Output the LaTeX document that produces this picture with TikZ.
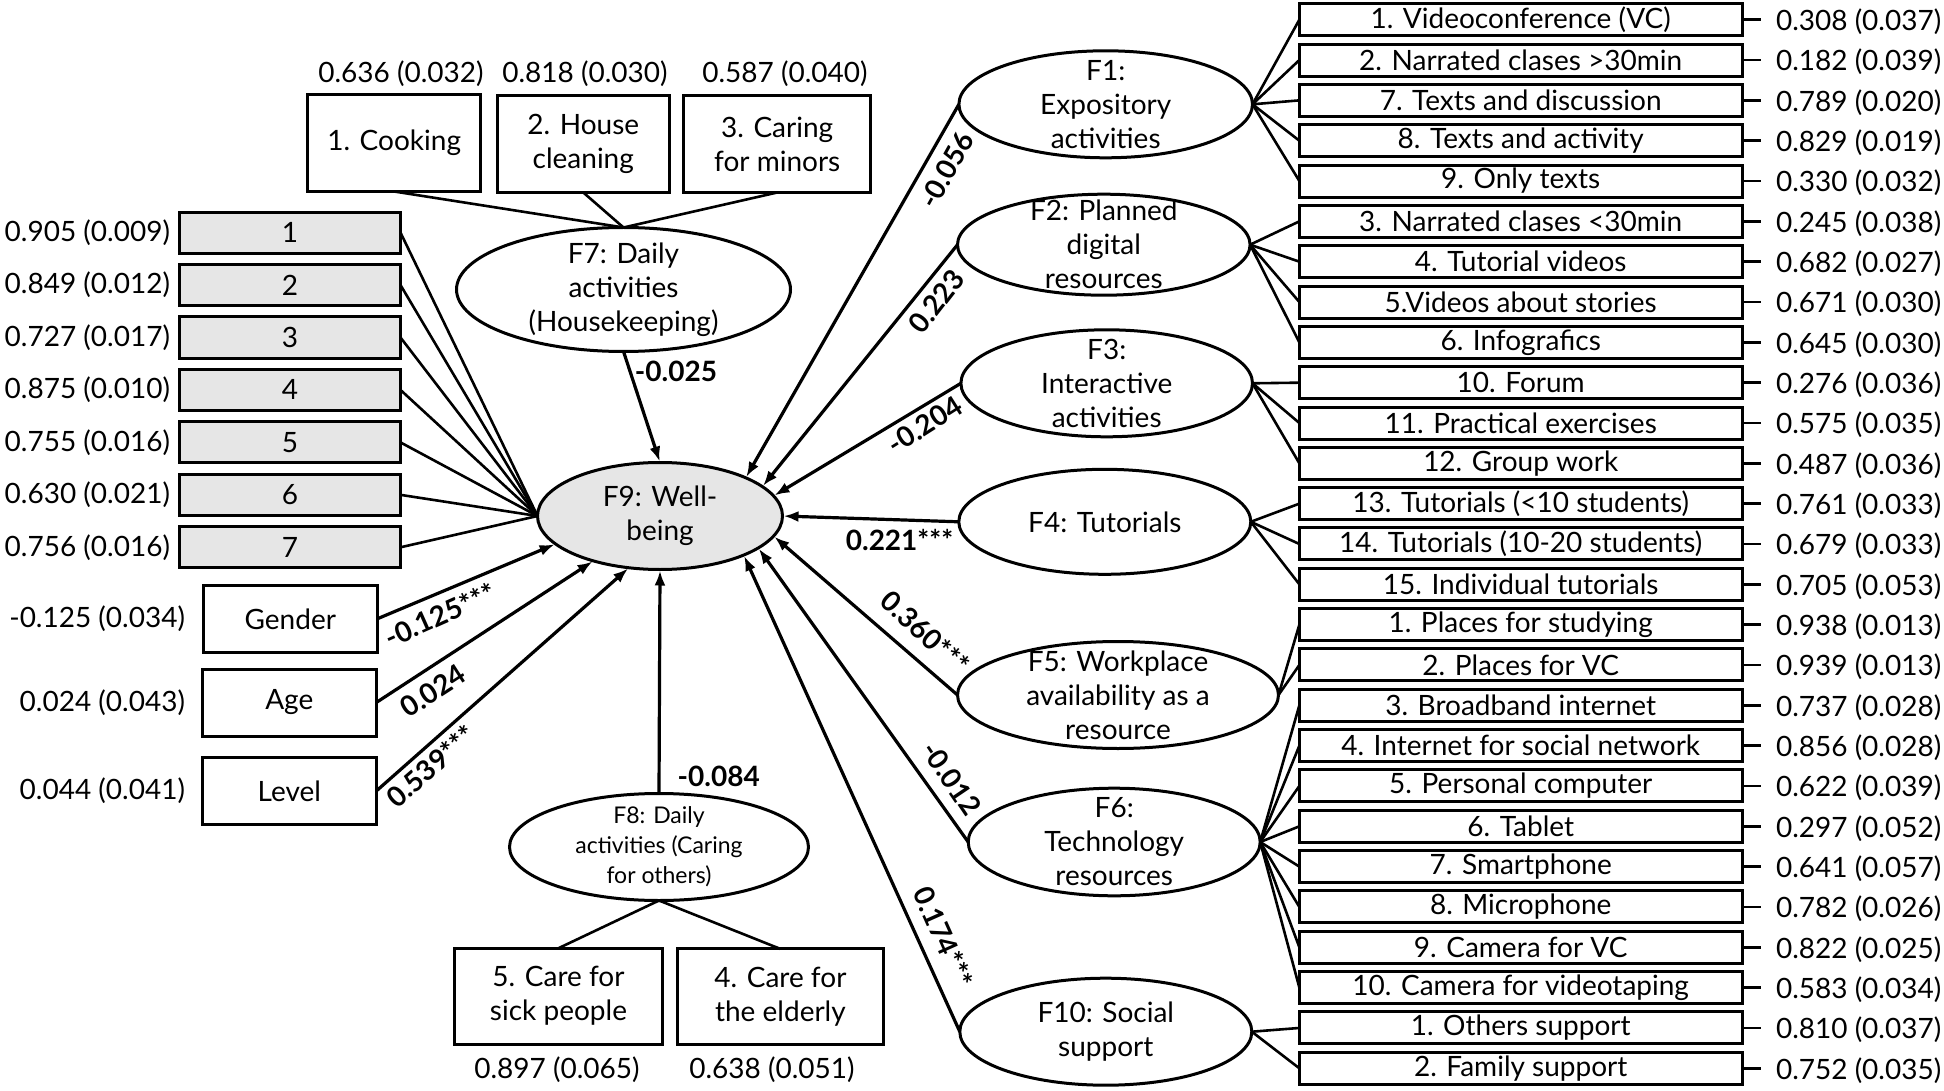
\documentclass[tikz,border=0pt]{standalone}
\usepackage{fontspec}
\setmainfont{Lato}
\usetikzlibrary{arrows.meta,shapes.geometric}
\definecolor{boxgray}{RGB}{230,230,230}
\begin{document}
\begin{tikzpicture}[x=1pt,y=-1pt,
  every node/.style={inner sep=0pt, outer sep=0pt, font=\fontsize{28}{34}\selectfont},
  rbox/.style={draw, line width=3pt, minimum width=442.7pt, minimum height=32pt},
  gbox/.style={draw, fill=boxgray, line width=3pt, minimum width=221pt, minimum height=41pt},
  dbox/.style={draw, line width=3pt, minimum width=174pt, minimum height=67pt},
  tbox/.style={draw, line width=3pt, minimum height=97pt, align=center},
  lat/.style={draw, line width=3pt, shape=ellipse, align=center, inner xsep=0pt, inner ysep=-30pt},
  conn/.style={line width=2.6pt},
  arr/.style={line width=3.2pt, -{Latex[length=15pt,width=11pt]}, shorten >=1pt},
  coef/.style={font=\fontsize{28}{34}\selectfont\bfseries}
]
\useasboundingbox (0,0) rectangle (1944,1091);

% ---------- latent variables ----------
\node[lat, minimum width=334pt, minimum height=124pt] (F7) at (623.5,289.5) {F7: Daily\\activities\\(Housekeeping)};
\node[lat, fill=boxgray, minimum width=245pt, minimum height=107pt] (F9) at (660,516) {F9: Well-\\being};
\node[lat, minimum width=299pt, minimum height=107pt, font=\fontsize{23}{30}\selectfont] (F8) at (659,847) {F8: Daily\\activities (Caring\\for others)};
\node[lat, minimum width=293.6pt, minimum height=107pt] (F1) at (1105.7,104.3) {F1:\\Expository\\activities};
\node[lat, minimum width=292.6pt, minimum height=101pt] (F2) at (1103.8,244.7) {F2: Planned\\digital\\resources};
\node[lat, minimum width=291.6pt, minimum height=107pt] (F3) at (1106.7,383.3) {F3:\\Interactive\\activities};
\node[lat, minimum width=292pt, minimum height=105pt] (F4) at (1104.8,521.8) {F4: Tutorials};
\node[lat, minimum width=321pt, minimum height=107pt] (F5) at (1118,695) {F5: Workplace\\availability as a\\resource};
\node[lat, minimum width=292pt, minimum height=107.6pt] (F6) at (1114.2,842) {F6:\\Technology\\resources};
\node[lat, minimum width=292pt, minimum height=107pt] (F10) at (1105.8,1031.7) {F10: Social\\support};

% ---------- top indicators (F7) ----------
\node[tbox, minimum width=173.5pt] (cook) at (394.2,143) {1. Cooking};
\node[tbox, minimum width=172.4pt] (house) at (583.3,144) {2. House\\cleaning};
\node[tbox, minimum width=187.5pt] (minors) at (777.2,144) {3. Caring\\for minors};
\node (cookv) at (401,74) {0.636 (0.032)};
\node (housev) at (585,74) {0.818 (0.030)};
\node (minorsv) at (785,74) {0.587 (0.040)};

% ---------- bottom indicators (F8) ----------
\node[tbox, minimum width=208.6pt, minimum height=96pt] (sick) at (558.5,996.2) {5. Care for\\sick people};
\node[tbox, minimum width=206.3pt, minimum height=96pt] (elder) at (780.4,996.9) {4. Care for\\the elderly};
\node (sickv) at (557,1070) {0.897 (0.065)};
\node (elderv) at (772,1070) {0.638 (0.051)};

% ---------- gray indicators (F9) ----------
\foreach \i/\v in {1/{0.905 (0.009)},2/{0.849 (0.012)},3/{0.727 (0.017)},4/{0.875 (0.010)},5/{0.755 (0.016)},6/{0.630 (0.021)},7/{0.756 (0.016)}}{
  \node[gbox] (g\i) at (290,{232.6+52.45*(\i-1)}) {\i};
  \node[anchor=east] (gv\i) at (170,{232.6+52.45*(\i-1)}) {\v};
}

% ---------- covariates ----------
\node[dbox] (gen) at (290.3,618.8) {Gender};
\node[dbox] (age) at (289.3,702.5) {Age};
\node[dbox] (lev) at (289.3,791) {Level};
\node[anchor=east] (genv) at (185,618.8) {-0.125 (0.034)};
\node[anchor=east] (agev) at (185,702.5) {0.024 (0.043)};
\node[anchor=east] (levv) at (185,791) {0.044 (0.041)};

% ---------- right indicators ----------
\foreach \t/\v [count=\i from 0] in {
  {1. Videoconference (VC)}/{0.308 (0.037)},
  {2. Narrated clases >30min}/{0.182 (0.039)},
  {7. Texts and discussion}/{0.789 (0.020)},
  {8. Texts and activity}/{0.829 (0.019)},
  {9. Only texts}/{0.330 (0.032)},
  {3. Narrated clases <30min}/{0.245 (0.038)},
  {4. Tutorial videos}/{0.682 (0.027)},
  {5.Videos about stories}/{0.671 (0.030)},
  {6. Infografics}/{0.645 (0.030)},
  {10. Forum}/{0.276 (0.036)},
  {11. Practical exercises}/{0.575 (0.035)},
  {12. Group work}/{0.487 (0.036)},
  {13. Tutorials (<10 students)}/{0.761 (0.033)},
  {14. Tutorials (10-20 students)}/{0.679 (0.033)},
  {15. Individual tutorials}/{0.705 (0.053)},
  {1. Places for studying}/{0.938 (0.013)},
  {2. Places for VC}/{0.939 (0.013)},
  {3. Broadband internet}/{0.737 (0.028)},
  {4. Internet for social network}/{0.856 (0.028)},
  {5. Personal computer}/{0.622 (0.039)},
  {6. Tablet}/{0.297 (0.052)},
  {7. Smartphone}/{0.641 (0.057)},
  {8. Microphone}/{0.782 (0.026)},
  {9. Camera for VC}/{0.822 (0.025)},
  {10. Camera for videotaping}/{0.583 (0.034)},
  {1. Others support}/{0.810 (0.037)},
  {2. Family support}/{0.752 (0.035)}}{
  \node[rbox] (r\i) at (1520.7,{19.7+40.33*\i}) {\t};
  \node[anchor=west] (v\i) at (1776,{21.7+40.33*\i}) {\v};
  \draw[conn] (r\i.east) -- ++(19,0);
}

% ---------- measurement connectors ----------
\foreach \n in {cook,house,minors} \draw[conn] (\n.south) -- (F7.north);
\foreach \i in {1,...,7} \draw[conn] (g\i.east) -- (F9.west);
\draw[conn] (F8.south) -- (sick.north);
\draw[conn] (F8.south) -- (elder.north);
\foreach \j in {0,...,4} \draw[conn] (F1.east) -- (r\j.west);
\foreach \j in {5,...,8} \draw[conn] (F2.east) -- (r\j.west);
\foreach \j in {9,...,11} \draw[conn] (F3.east) -- (r\j.west);
\foreach \j in {12,...,14} \draw[conn] (F4.east) -- (r\j.west);
\foreach \j in {15,16} \draw[conn] (F5.east) -- (r\j.west);
\foreach \j in {17,...,24} \draw[conn] (F6.east) -- (r\j.west);
\foreach \j in {25,26} \draw[conn] (F10.east) -- (r\j.west);

% ---------- structural paths ----------
\draw[arr] (F7.south) -- (F9.north);
\draw[arr] (F8.north) -- (F9.south);
\draw[arr] (gen.east) -- (F9.195.3);
\draw[arr] (age.east) -- (F9.214.7);
\draw[arr] (lev.east) -- (F9.239.2);
\draw[arr] (F1.west) -- (F9.24.7);
\draw[arr] (F2.west) -- (F9.16.5);
\draw[arr] (F3.west) -- (F9.10.1);
\draw[arr] (F4.west) -- (F9.east);
\draw[arr] (F5.west) -- (F9.350.1);
\draw[arr] (F6.west) -- (F9.342.4);
\draw[arr] (F10.west) -- (F9.335);

% ---------- coefficients ----------
\node[coef] (c7) at (676,371) {-0.025};
\node[coef] (c8) at (718.7,776.7) {-0.084};
\node[coef] (c4) at (899.5,540) {0.221***};
\node[coef, rotate=60.8] (c1) at (946.5,170) {-0.056};
\node[coef, rotate=52.1] (c2) at (936.5,301.5) {0.223};
\node[coef, rotate=32.4] (c3) at (925,425) {-0.204};
\node[coef, rotate=-42.7] (c5) at (925.5,632.5) {0.360***};
\node[coef, rotate=-55.9] (c6) at (951.5,778.5) {-0.012};
\node[coef, rotate=-66] (c10) at (943.5,937) {0.174***};
\node[coef, rotate=24] (cg) at (440,615) {-0.125***};
\node[coef, rotate=32.9] (ca) at (433,691) {0.024};
\node[coef, rotate=40.9] (cl) at (431,766) {0.539***};
\end{tikzpicture}
\end{document}
